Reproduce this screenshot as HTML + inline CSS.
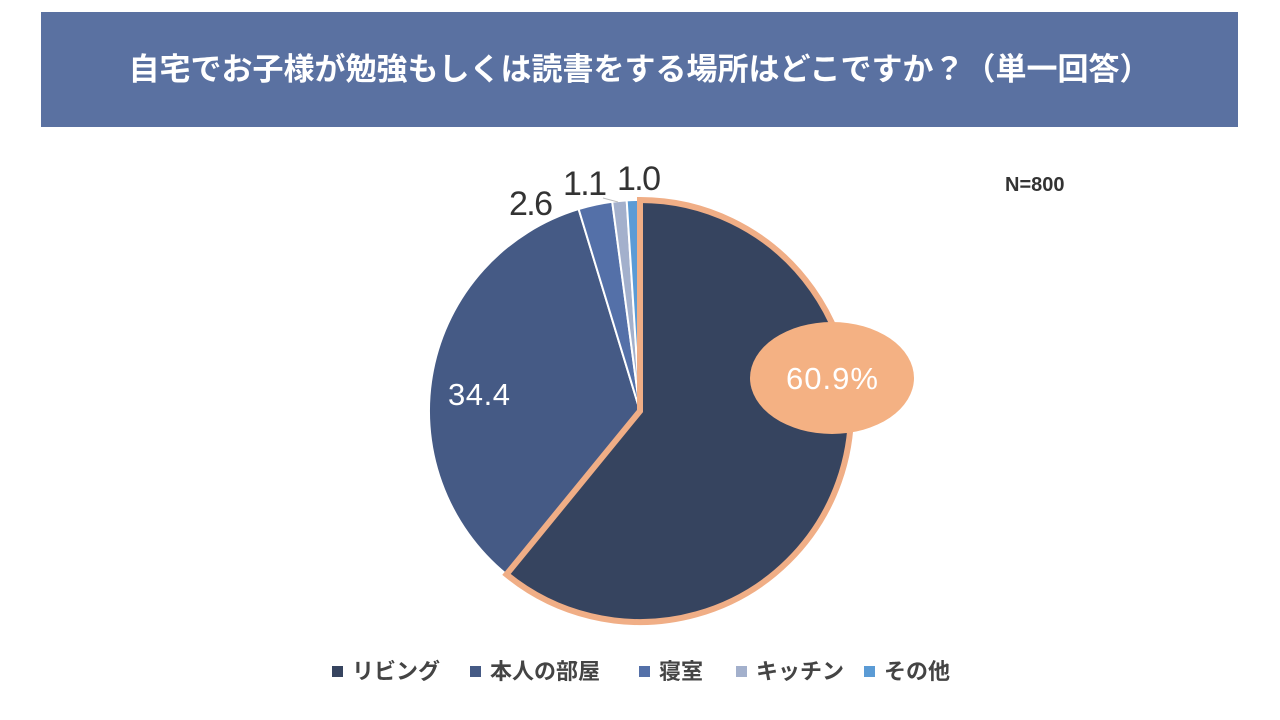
<!DOCTYPE html>
<html><head><meta charset="utf-8"><style>
body{margin:0;width:1280px;height:720px;background:#fff;font-family:"Liberation Sans","Noto Sans CJK JP",sans-serif;overflow:hidden;position:relative}
.t{position:absolute;left:41px;top:12px;width:1197px;height:115px;background:#5a71a1;color:#fff;font-weight:bold;font-size:31px;line-height:115px;text-align:center}
</style></head><body>
<div class="t">自宅でお子様が勉強もしくは読書をする場所はどこですか？（単一回答）</div>
<svg width="1280" height="720" style="position:absolute;left:0;top:0">
<g stroke="#fff" stroke-width="2">
<path d="M640,411 L506.5,574.4 A211,211 0 0 1 578.6,209.1 Z" fill="#455a85"/>
<path d="M640,411 L578.6,209.1 A211,211 0 0 1 612.2,201.8 Z" fill="#5470a8"/>
<path d="M640,411 L612.2,201.8 A211,211 0 0 1 626.7,200.4 Z" fill="#a3b0cc"/>
<path d="M640,411 L626.7,200.4 A211,211 0 0 1 640,200 Z" fill="#5b9bd5"/>
</g>
<path d="M640,411 L640,200 A211,211 0 1 1 506.5,574.4 Z" fill="#36445f" stroke="#f0ae86" stroke-width="6" stroke-linejoin="miter"/>
<line x1="603" y1="198" x2="618" y2="202" stroke="#bbb" stroke-width="1"/>
<ellipse cx="832" cy="378" rx="82" ry="56" fill="#f4b183"/>
<g font-family="Liberation Sans, sans-serif">
<text x="832" y="389" fill="#fff" font-size="31" text-anchor="middle" textLength="92">60.9%</text>
<text x="479" y="405" fill="#fff" font-size="31" text-anchor="middle" textLength="62">34.4</text>
<text x="531" y="215" fill="#333" font-size="34" text-anchor="middle" textLength="44">2.6</text>
<text x="585" y="195" fill="#333" font-size="34" text-anchor="middle" textLength="44">1.1</text>
<text x="639" y="190" fill="#333" font-size="34" text-anchor="middle" textLength="44">1.0</text>
<text x="1005" y="191" fill="#333" font-size="20" font-weight="bold">N=800</text>
</g>
<g font-size="22" fill="#444" font-weight="bold" font-family="Liberation Sans, Noto Sans CJK JP, sans-serif">
<rect x="332" y="666" width="11" height="11" fill="#36445f"/><text x="352" y="679">リビング</text>
<rect x="470" y="666" width="11" height="11" fill="#455a85"/><text x="490" y="679">本人の部屋</text>
<rect x="639" y="666" width="11" height="11" fill="#5470a8"/><text x="659" y="679">寝室</text>
<rect x="736" y="666" width="11" height="11" fill="#a3b0cc"/><text x="756" y="679">キッチン</text>
<rect x="864" y="666" width="11" height="11" fill="#5b9bd5"/><text x="884" y="679">その他</text>
</g>
</svg>
</body></html>
